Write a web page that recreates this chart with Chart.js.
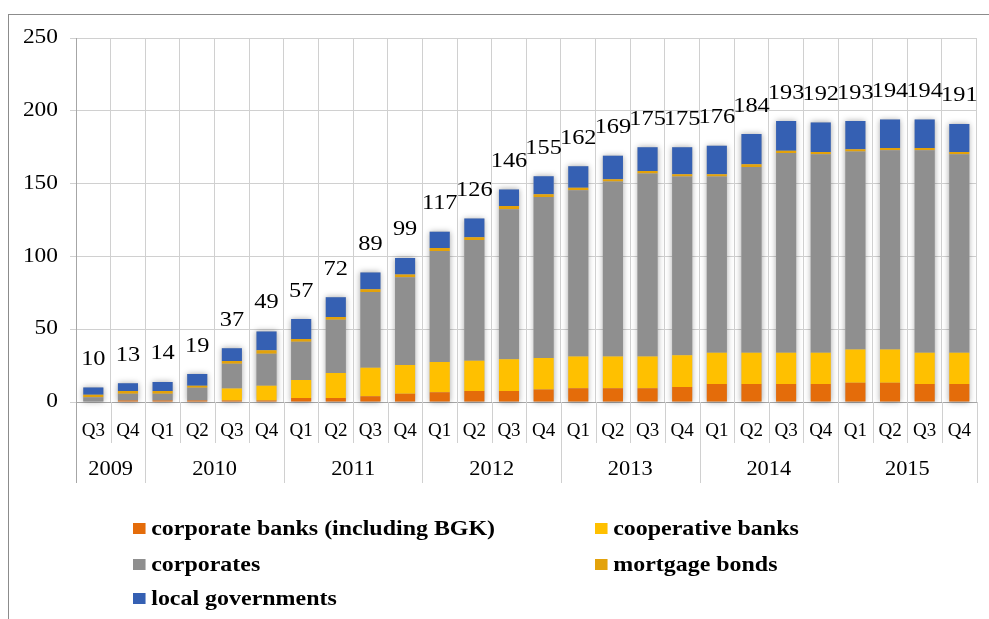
<!DOCTYPE html>
<html>
<head>
<meta charset="utf-8">
<script src="https://cdn.jsdelivr.net/npm/chart.js@4/dist/chart.umd.min.js"></script>
<style>
  html, body { margin: 0; padding: 0; background: #fff; }
  #wrap { position: relative; width: 989px; height: 619px; overflow: hidden; }
  #chart { position: absolute; left: 0; top: 0; }
  #legend { position: absolute; left: 0; top: 0; width: 989px; height: 619px; pointer-events: none;
            font-family: "Liberation Serif", "Times New Roman", serif; font-weight: bold; font-size: 21px; color: #000; }
  .item { position: absolute; white-space: nowrap; line-height: 24px; transform: scaleX(1.14); transform-origin: left center; }
  .box { display: inline-block; width: 11px; height: 11px; margin-right: 5px; vertical-align: 1px; }
</style>
</head>
<body>
<div id="wrap">
  <canvas id="chart" width="989" height="619"></canvas>
  <div id="legend"></div>
</div>
<script>
// kwartaly i lata
const quarters = ['Q3','Q4','Q1','Q2','Q3','Q4','Q1','Q2','Q3','Q4','Q1','Q2','Q3','Q4',
                  'Q1','Q2','Q3','Q4','Q1','Q2','Q3','Q4','Q1','Q2','Q3','Q4']
const years = ['2009','2010','2011','2012','2013','2014','2015']
const yearSpans = [2,4,4,4,4,4,4]

// wartosci serii
const corporateBanks = [0.3,1.1,1.1,1.1,1.1,1.1,2.7,2.7,3.9,5.7,6.7,7.6,7.6,8.5,9.4,9.4,9.4,10.3,12.4,12.4,12.4,12.4,13.3,13.3,12.4,12.4]
const cooperativeBanks = [0,0,0,0,8.2,10.1,12.4,17.2,19.7,19.7,20.8,20.8,21.7,21.7,21.8,21.8,21.8,21.8,21.5,21.5,21.5,21.5,22.7,22.7,21.5,21.5]
const corporates = [3.0,4.6,4.6,8.7,17,22,26.3,36.6,51.9,60.2,76.2,82.9,103,110.6,114.2,120.2,125.7,122.7,120.9,127.5,137.1,136.2,136,136.9,139,136.2]
const mortgageBonds = [1.6,1.8,1.8,1.4,1.8,2.3,1.8,1.8,1.9,1.9,2.1,1.8,2.4,1.8,1.8,1.6,1.8,1.6,1.6,1.9,1.6,1.6,1.6,1.6,1.6,1.6]
const localGovernments = [5.1,5.3,6.2,8.1,8.9,13.0,13.8,13.7,11.6,11.4,11.2,12.9,11.3,12.4,14.8,16.2,16.3,18.6,19.6,20.7,20.4,20.3,19.4,19.5,19.5,19.3]
const totals = [10,13,14,19,37,49,57,72,89,99,117,126,146,155,162,169,175,175,176,184,193,192,193,194,194,191]
const yTicks = [0,50,100,150,200,250]

const serif = '"Liberation Serif", "Times New Roman", serif'

// tekst rozciagniety w poziomie (jak na oryginale)
function wideText(ctx, text, x, y, sx) {
    ctx.save()
    ctx.translate(x, y)
    ctx.scale(sx, 1)
    ctx.fillText(text, 0, 0)
    ctx.restore()
}

// dodatki: ramka, cien slupkow, etykiety, lata pod osia
const extras = {
    id: 'extras',
    beforeDraw(chart) {
        const ctx = chart.ctx
        ctx.save()
        ctx.strokeStyle = '#8c8c8c'
        ctx.lineWidth = 1
        ctx.strokeRect(8.5, 14.5, 1100, 800)
        ctx.restore()
    },
    beforeDatasetsDraw(chart) {
        const ctx = chart.ctx
        const first = chart.getDatasetMeta(0).data
        const last = chart.getDatasetMeta(chart.data.datasets.length - 1).data
        ctx.save()
        ctx.shadowColor = 'rgba(0,0,0,0.35)'
        ctx.shadowBlur = 6
        ctx.fillStyle = '#bbb'
        for (let i = 0; i < first.length; i++) {
            const w = first[i].width
            ctx.fillRect(first[i].x - w / 2, last[i].y, w, first[i].base - last[i].y)
        }
        ctx.restore()
    },
    afterDatasetsDraw(chart) {
        const ctx = chart.ctx
        const x = chart.scales.x
        const y = chart.scales.y
        ctx.save()
        ctx.fillStyle = '#000'
        ctx.font = '21px ' + serif
        ctx.textAlign = 'center'
        ctx.textBaseline = 'middle'
        totals.forEach((t, i) => {
            wideText(ctx, String(t), x.getPixelForValue(i), y.getPixelForValue(t) - 28, 1.16)
        })
        ctx.restore()
    },
    afterDraw(chart) {
        const ctx = chart.ctx
        const x = chart.scales.x
        const y = chart.scales.y
        const area = chart.chartArea
        const half = (x.getPixelForValue(1) - x.getPixelForValue(0)) / 2
        ctx.save()
        // podpisy osi Y
        ctx.fillStyle = '#000'
        ctx.font = '20px ' + serif
        ctx.textAlign = 'right'
        ctx.textBaseline = 'middle'
        yTicks.forEach(v => wideText(ctx, String(v), area.left - 18, y.getPixelForValue(v), 1.17))

        ctx.strokeStyle = '#d0d0d0'
        ctx.lineWidth = 1
        // separatory kwartalow
        for (let i = 0; i <= quarters.length; i++) {
            const px = Math.round(x.getPixelForValue(i) - half) + 0.5
            ctx.beginPath()
            ctx.moveTo(px, area.bottom)
            ctx.lineTo(px, area.bottom + 41)
            ctx.stroke()
        }
        // separatory lat i podpisy
        ctx.textAlign = 'center'
        let start = 0
        for (let k = 0; k < years.length; k++) {
            const end = start + yearSpans[k]
            const x0 = x.getPixelForValue(start) - half
            const x1 = x.getPixelForValue(end - 1) + half
            ctx.beginPath()
            ctx.moveTo(Math.round(x0) + 0.5, area.bottom)
            ctx.lineTo(Math.round(x0) + 0.5, area.bottom + 81)
            ctx.moveTo(Math.round(x1) + 0.5, area.bottom)
            ctx.lineTo(Math.round(x1) + 0.5, area.bottom + 81)
            ctx.stroke()
            wideText(ctx, years[k], (x0 + x1) / 2, area.bottom + 68, 1.12)
            start = end
        }
        ctx.strokeStyle = '#a6a6a6'
        ctx.beginPath()
        ctx.moveTo(Math.round(area.left) + 0.5, area.bottom)
        ctx.lineTo(Math.round(area.left) + 0.5, area.bottom + 81)
        ctx.stroke()
        ctx.restore()
    }
}

const chart = new Chart(document.getElementById('chart'), {
    type: 'bar',
    data: {
        labels: quarters,
        datasets: [
            { label: 'corporate banks (including BGK)', data: corporateBanks, backgroundColor: '#E46C0A' },
            { label: 'cooperative banks', data: cooperativeBanks, backgroundColor: '#FFC000' },
            { label: 'corporates', data: corporates, backgroundColor: '#8F8F8F' },
            { label: 'mortgage bonds', data: mortgageBonds, backgroundColor: '#E3A20B' },
            { label: 'local governments', data: localGovernments, backgroundColor: '#3560B3' }
        ]
    },
    options: {
        responsive: false,
        animation: false,
        devicePixelRatio: 1,
        layout: { padding: { left: 0, right: 4, top: 38, bottom: 0 } },
        datasets: { bar: { categoryPercentage: 1, barPercentage: 0.58, borderWidth: 0 } },
        plugins: { legend: { display: false }, tooltip: { enabled: false } },
        scales: {
            x: {
                stacked: true,
                grid: { offset: true, color: '#d0d0d0', drawTicks: false },
                border: { color: '#a6a6a6' },
                ticks: { color: '#000', font: { family: serif, size: 19 }, padding: 18, maxRotation: 0, autoSkip: false },
                afterFit: s => { s.height = 217 }
            },
            y: {
                stacked: true,
                min: 0,
                max: 250,
                afterBuildTicks: s => { s.ticks = yTicks.map(v => ({ value: v })) },
                grid: { color: '#d0d0d0', tickLength: 6 },
                border: { color: '#a6a6a6' },
                ticks: { display: false },
                afterFit: s => { s.width = 76 }
            }
        }
    },
    plugins: [extras]
})

// legenda w dwoch kolumnach
const legendPos = [[133, 516], [595, 516], [133, 552], [595, 552], [133, 586]]
const legend = document.getElementById('legend')
chart.data.datasets.forEach((ds, i) => {
    const el = document.createElement('div')
    el.className = 'item'
    el.style.left = legendPos[i][0] + 'px'
    el.style.top = legendPos[i][1] + 'px'
    el.innerHTML = '<span class="box" style="background:' + ds.backgroundColor + '"></span>' + ds.label
    legend.appendChild(el)
})
</script>
</body>
</html>
